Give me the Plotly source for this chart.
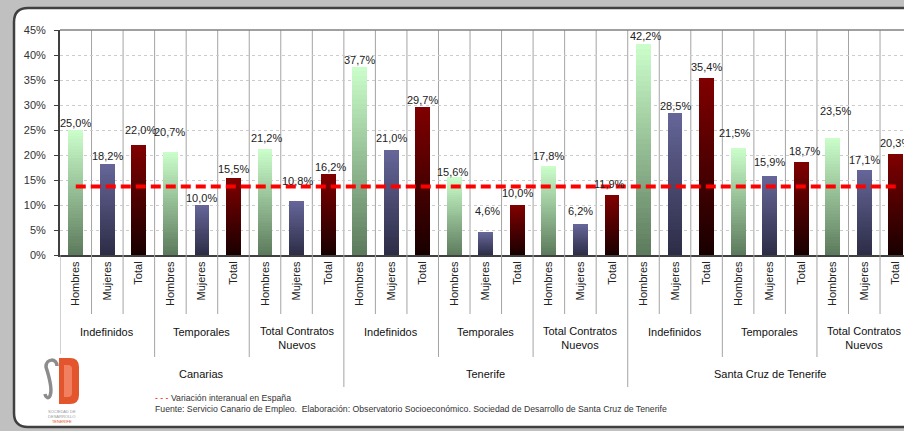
import plotly.graph_objects as go

# ---------------- data ----------------
regions = ["Canarias", "Tenerife", "Santa Cruz de Tenerife"]
contracts = ["Indefinidos", "Temporales", "Total Contratos<br>Nuevos"]
genders = ["Hombres", "Mujeres", "Total"]
canarias = [25.0, 18.2, 22.0, 20.7, 10.0, 15.5, 21.2, 10.8, 16.2]
tenerife = [37.7, 21.0, 29.7, 15.6, 4.6, 10.0, 17.8, 6.2, 11.9]
santa_cruz = [42.2, 28.5, 35.4, 21.5, 15.9, 18.7, 23.5, 17.1, 20.3]
espana = 13.7
y_ticks = [0, 5, 10, 15, 20, 25, 30, 35, 40, 45]

# label placement tweaks (pixels, style only)
label_dy = [7, 8, 15, 20, 7, 9, 11, 20, 7,
            7, 12, 7, 5, 21, 12, 10, 13, 12,
            8, 7, 11, 15, 14, 11, 27, 10, 11]
label_dx = [0, 0, 2, -1, 0, 0, 1, 1, 2,
            0, 0, 0, -2, 2, 0, 0, 0, -2,
            2, 0, 0, -4, 0, 3, 3, 0, 0]

values = canarias + tenerife + santa_cruz
idx = list(range(len(values)))

# ---------------- geometry helpers ----------------
W, H = 904, 431
PL, PR, PT, PB = 60, 904, 30, 255
SLOT = 31.54


def px(x):
    return (x - PL) / (PR - PL)


def py(y):
    return (PB - y) / (PB - PT)


FONT = "Liberation Sans, Arial, sans-serif"

tops = [(204, 255, 204), (102, 102, 153), (128, 0, 0)]
bottoms = [(92, 122, 92), (44, 44, 70), (24, 0, 0)]

N = 40


def seg_color(g, k):
    t = (k + 0.5) / N
    a, b = bottoms[g], tops[g]
    c = [round(a[j] + (b[j] - a[j]) * t) for j in range(3)]
    return "rgb(%d,%d,%d)" % tuple(c)


fig = go.Figure()

for k in range(N):
    fig.add_bar(
        x=idx,
        y=[v / N for v in values],
        base=[v * k / N for v in values],
        width=0.47,
        marker=dict(color=[seg_color(i % 3, k) for i in idx], line=dict(width=0)),
        hoverinfo="skip",
        showlegend=False,
    )

fig.add_scatter(
    x=idx,
    y=[espana] * len(idx),
    mode="lines",
    line=dict(color="#ff0000", width=4, dash="10px,5px"),
    hoverinfo="skip",
    showlegend=False,
)

shapes = []
# white rounded panel
r = 14
L, T, R, B = 14, 8, 940, 427
pts = [("M", L, T + r), ("Q", L, T, L + r, T), ("L", R, T), ("L", R, B),
       ("L", L + r, B), ("Q", L, B, L, B - r)]
path = ""
for p in pts:
    if p[0] == "Q":
        path += "Q%f,%f %f,%f " % (px(p[1]), py(p[2]), px(p[3]), py(p[4]))
    else:
        path += "%s%f,%f " % (p[0], px(p[1]), py(p[2]))
path += "Z"
shapes.append(dict(type="path", path=path, xref="paper", yref="paper",
                   fillcolor="white", line=dict(color="#404040", width=2.5),
                   layer="below"))

# vertical gridlines inside plot area
for b in range(1, 27):
    shapes.append(dict(type="line", xref="x", yref="paper", x0=b - 0.5, x1=b - 0.5,
                       y0=0, y1=1, line=dict(color="#a4a4a4", width=1), layer="below"))

# hierarchical separators below the axis
for b in range(0, 27):
    if b == 0:
        yb = 354
    elif b % 9 == 0:
        yb = 387
    elif b % 3 == 0:
        yb = 357
    else:
        yb = 314
    shapes.append(dict(type="line", xref="x", yref="paper", x0=b - 0.5, x1=b - 0.5,
                       y0=0, y1=py(yb), line=dict(color="#a4a4a4", width=1)))

# top border of plot area
shapes.append(dict(type="line", xref="paper", yref="paper", x0=0, x1=1, y0=1, y1=1,
                   line=dict(color="#808080", width=1.5)))


# logo "S" (grey stroke) and "D" (orange block)
def ppath(cmds):
    out = ""
    for c in cmds:
        op = c[0]
        coords = c[1:]
        s = op
        for j in range(0, len(coords), 2):
            s += "%f,%f " % (px(coords[j]), py(coords[j + 1]))
        out += s
    return out


s_path = ppath([("M", 57, 366), ("C", 57, 358, 46, 358, 46, 367, 46, 377, 57, 378, 57, 391),
                ("C", 57, 401, 46, 401, 45, 394)])
shapes.append(dict(type="path", path=s_path, xref="paper", yref="paper",
                   line=dict(color="#8c8c8c", width=3.5)))
d_path = ppath([("M", 59, 358), ("L", 70, 358), ("Q", 79, 358, 79, 367), ("L", 79, 395),
                ("Q", 79, 404, 70, 404), ("L", 59, 404)]) + "Z"
shapes.append(dict(type="path", path=d_path, xref="paper", yref="paper",
                   fillcolor="#e2552d", line=dict(width=0)))
d_in = ppath([("M", 64, 365), ("L", 68, 365), ("Q", 72, 365, 72, 369), ("L", 72, 393),
              ("Q", 72, 397, 68, 397), ("L", 64, 397)]) + "Z"
shapes.append(dict(type="path", path=d_in, xref="paper", yref="paper",
                   fillcolor="#f08060", line=dict(width=0)))

annotations = []
for i, v in enumerate(values):
    annotations.append(dict(
        x=i, y=v, xref="x", yref="y", text=("%.1f%%" % v).replace(".", ","),
        showarrow=False, yanchor="middle", xanchor="center",
        yshift=label_dy[i], xshift=label_dx[i],
        font=dict(family=FONT, size=11, color="#222222")))

for ri, reg in enumerate(regions):
    annotations.append(dict(x=9 * ri + 4, y=py(373.5), xref="x", yref="paper",
                            text=reg, showarrow=False, yanchor="middle",
                            font=dict(family=FONT, size=11, color="#111111")))
    for ci, con in enumerate(contracts):
        two = "<br>" in con
        annotations.append(dict(x=9 * ri + 3 * ci + 1, y=py(337.5 if two else 331.5),
                                xref="x", yref="paper", text=con, showarrow=False,
                                yanchor="middle",
                                font=dict(family=FONT, size=11, color="#111111")))

annotations.append(dict(x=px(153), y=py(397.5), xref="paper", yref="paper",
                        xanchor="left", yanchor="middle", showarrow=False,
                        text="<span style='color:#ff0000'>- - -</span> Variación interanual en España",
                        font=dict(family=FONT, size=8.7, color="#333333")))
annotations.append(dict(x=px(153), y=py(408.5), xref="paper", yref="paper",
                        xanchor="left", yanchor="middle", showarrow=False,
                        text="Fuente: Servicio Canario de Empleo.  Elaboración: Observatorio Socioeconómico. Sociedad de Desarrollo de Santa Cruz de Tenerife",
                        font=dict(family=FONT, size=8.7, color="#333333")))
annotations.append(dict(x=px(62), y=py(416), xref="paper", yref="paper",
                        xanchor="center", yanchor="middle", showarrow=False,
                        text="SOCIEDAD DE<br>DESARROLLO<br><span style='color:#e2552d'>TENERIFE</span>",
                        font=dict(family=FONT, size=4, color="#999999")))

fig.update_layout(
    width=W, height=H,
    margin=dict(l=PL, r=W - PR, t=PT, b=H - PB, pad=0),
    paper_bgcolor="#c0c0c0",
    plot_bgcolor="rgba(0,0,0,0)",
    barmode="overlay",
    bargap=0,
    showlegend=False,
    shapes=shapes,
    annotations=annotations,
    xaxis=dict(
        range=[-0.5, -0.5 + (PR - PL) / SLOT],
        tickmode="array", tickvals=idx, ticktext=[genders[i % 3] for i in idx],
        tickangle=-90, showgrid=False, zeroline=False,
        showline=True, linecolor="#404040", linewidth=2,
        ticks="", tickfont=dict(family=FONT, size=11, color="#222222"),
        automargin=False, fixedrange=True,
    ),
    yaxis=dict(
        range=[0, 45], tickmode="array", tickvals=y_ticks,
        ticktext=["%d%%" % t for t in y_ticks],
        showgrid=True, gridcolor="#cccccc", griddash="dot", gridwidth=1,
        zeroline=False, showline=True, linecolor="#404040", linewidth=2,
        ticks="outside", ticklen=4, tickcolor="#404040", ticklabelstandoff=6,
        tickfont=dict(family=FONT, size=11, color="#333333"),
        automargin=False, fixedrange=True,
    ),
)

fig.write_html(
    "out.html",
    config={"displayModeBar": False},
    post_script="document.body.style.margin='0';document.body.style.overflow='hidden';document.body.style.background='#c0c0c0';",
)
